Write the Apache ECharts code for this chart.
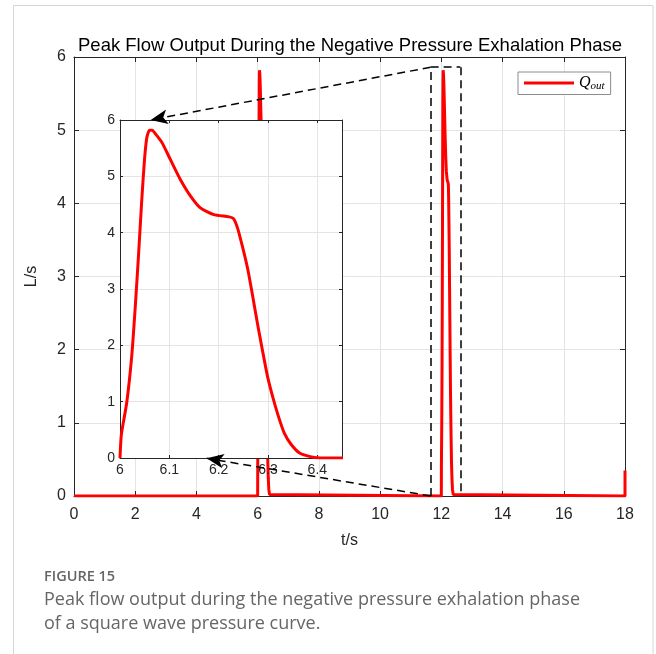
<!DOCTYPE html>
<html><head><meta charset="utf-8">
<script src="https://cdn.jsdelivr.net/npm/echarts@6/dist/echarts.min.js"></script>
<style>html,body{margin:0;padding:0;background:#fff}#c{width:656px;height:654px}</style>
</head><body><div id="c"></div>
<script>
// ---- data ----
const seriesName = 'Q_out';
const startT = [0], startQ = [0];
const cycleStarts = [6, 12];
// one exhalation pulse: time offset from cycle start (s) and flow (L/s)
const pulseDt = [0, 0.0027, 0.0136, 0.0238, 0.0306, 0.0374, 0.0442, 0.0497, 0.0544, 0.0599, 0.0653, 0.0714, 0.085, 0.102, 0.122, 0.143, 0.163, 0.190, 0.221, 0.230, 0.238, 0.248, 0.259, 0.269, 0.279, 0.289, 0.299, 0.310, 0.320, 0.333, 0.347, 0.364, 0.388, 0.408, 0.452];
const pulseQ  = [0, 0.41, 0.98, 1.81, 2.64, 3.58, 4.59, 5.30, 5.69, 5.82, 5.82, 5.76, 5.60, 5.30, 4.95, 4.65, 4.44, 4.32, 4.28, 4.25, 4.09, 3.76, 3.35, 2.87, 2.37, 1.90, 1.45, 1.07, 0.77, 0.44, 0.24, 0.09, 0.02, 0, 0];
const tailT = [18, 18], tailQ = [0, 0.35];
const mainXTicks = {min: 0, max: 18, interval: 2};
const mainYTicks = {min: 0, max: 6, interval: 1};
const insetXTicks = {min: 6, max: 6.45, interval: 0.1};
const insetYTicks = {min: 0, max: 6, interval: 1};
// zoom annotation (main-axis data coordinates)
const zoomBoxT = [11.65, 12.62], zoomBoxQ = [0, 5.86];
const arrowTipT = [2.505, 4.335], arrowTipQ = [5.14, 0.515];

// ---- build series data ----
const mainData = [];
startT.forEach((t, i) => mainData.push([t, startQ[i]]));
cycleStarts.forEach(c => pulseDt.forEach((d, i) => mainData.push([c + d, pulseQ[i]])));
tailT.forEach((t, i) => mainData.push([t, tailQ[i]]));
const insetData = pulseDt.map((d, i) => [cycleStarts[0] + d, pulseQ[i]]);

const AX = '#262626', GRID = '#e4e4e4', FONT = 'Liberation Sans, Arial, sans-serif';
function axis(extra, ticks, fs, tickLen, labels, split, z) {
  return Object.assign({
    type: 'value', min: ticks.min, max: ticks.max, interval: ticks.interval, z: z,
    axisLine: {show: true, onZero: false, lineStyle: {color: AX, width: 1}},
    axisTick: {show: true, inside: true, length: tickLen, lineStyle: {color: AX, width: 1}},
    axisLabel: {show: labels, fontSize: fs, color: AX, fontFamily: FONT},
    splitLine: {show: split, lineStyle: {color: GRID, width: 1}}
  }, extra);
}
const dash = [8, 5];
const lineSty = {color: '#000', width: 1.5, type: dash};
const option = {
  animation: false,
  backgroundColor: '#fff',
  grid: [
    {left: 74, top: 57, width: 551, height: 439, show: false, z: 0},
    {left: 120, top: 120, width: 222, height: 338, show: true, backgroundColor: '#fff', borderWidth: 0, z: 10}
  ],
  xAxis: [
    axis({gridIndex: 0, position: 'bottom', name: 't/s', nameLocation: 'middle', nameGap: 37,
      nameTextStyle: {fontSize: 16, color: AX, fontFamily: FONT},
      axisLabel: {show: true, fontSize: 16, color: AX, fontFamily: FONT, margin: 11}}, mainXTicks, 16, 5, true, true, 0),
    axis({gridIndex: 0, position: 'top'}, mainXTicks, 16, 5, false, false, 0),
    axis({gridIndex: 1, position: 'bottom',
      axisLabel: {show: true, fontSize: 14, color: AX, fontFamily: FONT, margin: 5, showMaxLabel: false}}, insetXTicks, 14, 3, true, true, 11),
    axis({gridIndex: 1, position: 'top'}, insetXTicks, 14, 3, false, false, 11)
  ],
  yAxis: [
    axis({gridIndex: 0, position: 'left', name: 'L/s', nameLocation: 'middle', nameGap: 34,
      nameTextStyle: {fontSize: 16, color: AX, fontFamily: FONT},
      axisLabel: {show: true, fontSize: 16, color: AX, fontFamily: FONT, margin: 8}}, mainYTicks, 16, 5, true, true, 0),
    axis({gridIndex: 0, position: 'right'}, mainYTicks, 16, 5, false, false, 0),
    axis({gridIndex: 1, position: 'left',
      axisLabel: {show: true, fontSize: 14, color: AX, fontFamily: FONT, margin: 5}}, insetYTicks, 14, 3, true, true, 11),
    axis({gridIndex: 1, position: 'right'}, insetYTicks, 14, 3, false, false, 11)
  ],
  legend: {
    data: [seriesName], left: 518, top: 72, orient: 'horizontal',
    padding: [3, 6, 3, 6], itemWidth: 50, itemHeight: 3, icon: 'rect',
    backgroundColor: '#fff', borderColor: '#8c8c8c', borderWidth: 1, borderRadius: 0,
    formatter: () => '{q|Q}{s|out}',
    textStyle: {
      rich: {
        q: {fontFamily: 'Liberation Serif, serif', fontStyle: 'italic', fontSize: 16, color: '#000'},
        s: {fontFamily: 'Liberation Serif, serif', fontStyle: 'italic', fontSize: 11, color: '#000', padding: [6, 0, 0, 0]}
      }
    }
  },
  series: [
    {name: seriesName, type: 'line', xAxisIndex: 0, yAxisIndex: 0, data: mainData, showSymbol: false,
      lineStyle: {color: '#ff0000', width: 3}, itemStyle: {color: '#ff0000'}, z: 2, clip: true, silent: true},
    {name: seriesName, type: 'line', xAxisIndex: 2, yAxisIndex: 2, data: insetData, showSymbol: false,
      smooth: 0.2,
      lineStyle: {color: '#ff0000', width: 3, join: 'round'}, itemStyle: {color: '#ff0000'}, z: 12, clip: true, silent: true},
    {name: 'annot', type: 'line', xAxisIndex: 0, yAxisIndex: 0, data: [], z: 20, silent: true,
      markLine: {
        silent: true, z: 20, animation: false, symbol: ['none', 'none'],
        label: {show: false}, lineStyle: lineSty, emphasis: {disabled: true},
        data: [
          [{coord: [zoomBoxT[0], zoomBoxQ[0]]}, {coord: [zoomBoxT[0], zoomBoxQ[1]]}],
          [{coord: [zoomBoxT[0], zoomBoxQ[1]]}, {coord: [zoomBoxT[1], zoomBoxQ[1]]}],
          [{coord: [zoomBoxT[1], zoomBoxQ[1]]}, {coord: [zoomBoxT[1], zoomBoxQ[0]]}],
          [{coord: [zoomBoxT[0], zoomBoxQ[1]], symbol: 'none'}, {coord: [arrowTipT[0], arrowTipQ[0]], symbol: 'arrow', symbolSize: [11, 17]}],
          [{coord: [zoomBoxT[0], zoomBoxQ[0]], symbol: 'none'}, {coord: [arrowTipT[1], arrowTipQ[1]], symbol: 'arrow', symbolSize: [11, 17]}]
        ]
      }}
  ],
  graphic: [
    {type: 'rect', z: -10, silent: true, shape: {x: 13.5, y: 5.5, width: 639.5, height: 700},
      style: {fill: 'none', stroke: '#d6d6d6', lineWidth: 1}},
    {type: 'text', x: 350, y: 46, z: 30, silent: true,
      style: {text: 'Peak Flow Output During the Negative Pressure Exhalation Phase', font: '18.5px ' + FONT, fill: '#000', textAlign: 'center', textVerticalAlign: 'middle'}},
    {type: 'text', x: 44, y: 577, silent: true,
      style: {text: 'FIGURE 15', font: '600 14.5px "Open Sans", sans-serif', fill: '#666', textAlign: 'left', textVerticalAlign: 'middle'}},
    {type: 'text', x: 44, y: 600, silent: true,
      style: {text: 'Peak flow output during the negative pressure exhalation phase', font: '18px "Open Sans", sans-serif', fill: '#666', textAlign: 'left', textVerticalAlign: 'middle'}},
    {type: 'text', x: 44, y: 624, silent: true,
      style: {text: 'of a square wave pressure curve.', font: '18px "Open Sans", sans-serif', fill: '#666', textAlign: 'left', textVerticalAlign: 'middle'}}
  ]
};
const chart = echarts.init(document.getElementById('c'), null, {renderer: 'canvas'});
chart.setOption(option);
</script>
</body></html>
